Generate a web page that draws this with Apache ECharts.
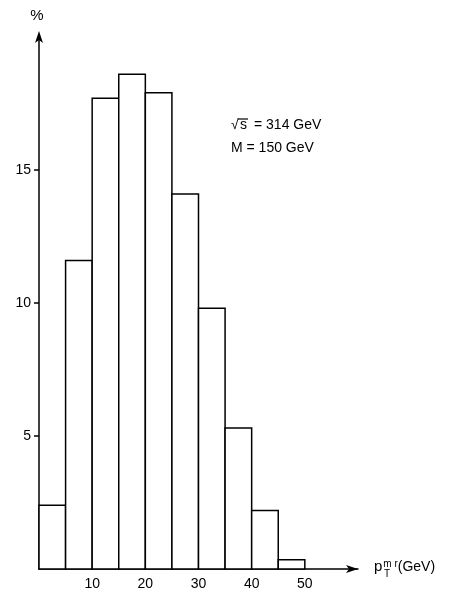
<!DOCTYPE html>
<html>
<head>
<meta charset="utf-8">
<script src="https://cdn.jsdelivr.net/npm/echarts@6/dist/echarts.min.js"></script>
<style>
  html, body { margin: 0; padding: 0; background: #fff; }
  #chart { width: 451px; height: 594px; }
</style>
</head>
<body>
<div id="chart"></div>
<script>
  // bins of pT (GeV), 5 GeV wide
  var binLow = [0, 5, 10, 15, 20, 25, 30, 35, 40, 45];
  var binHigh = [5, 10, 15, 20, 25, 30, 35, 40, 45, 50];
  var percent = [2.4, 11.6, 17.7, 18.6, 17.9, 14.1, 9.8, 5.3, 2.2, 0.35];
  var xTicks = [10, 20, 30, 40, 50];
  var yTicks = [5, 10, 15];

  var chart = echarts.init(document.getElementById('chart'));

  var bars = [];
  for (var i = 0; i < percent.length; i++) {
    bars.push([binLow[i], binHigh[i], percent[i]]);
  }

  var font = 'Liberation Sans';
  var txtFont = '14px "Liberation Sans"';

  var option = {
    backgroundColor: '#fff',
    animation: false,
    grid: { left: 39, right: 93, top: 37, bottom: 25 },
    xAxis: {
      type: 'value',
      min: 0,
      max: 60,
      axisLine: {
        show: true,
        lineStyle: { color: '#000', width: 1.5 },
        symbol: ['none', 'arrow'],
        symbolSize: [6, 12],
        symbolOffset: [0, 0]
      },
      axisTick: { show: true, customValues: xTicks, length: 0, lineStyle: { color: '#000' } },
      axisLabel: {
        customValues: xTicks,
        color: '#000',
        fontFamily: font,
        fontSize: 14,
        margin: 8
      },
      splitLine: { show: false },
      name: '{p|p}{sup|m r}{par|(GeV)}\n{sub|T}',
      nameLocation: 'end',
      nameGap: 16,
      nameTextStyle: {
        color: '#000',
        fontFamily: font,
        align: 'left',
        verticalAlign: 'top',
        padding: [-10, 0, 0, 0],
        rich: {
          p: { fontSize: 15, fontFamily: font, color: '#000' },
          sup: { fontSize: 10, fontFamily: font, color: '#000', verticalAlign: 'top', padding: [0, 0, 6, 1] },
          par: { fontSize: 14, fontFamily: font, color: '#000' },
          sub: { fontSize: 10, fontFamily: font, color: '#000', padding: [-6, 0, 0, 10] }
        }
      }
    },
    yAxis: {
      type: 'value',
      min: 0,
      max: 20,
      axisLine: {
        show: true,
        lineStyle: { color: '#000', width: 1.5 },
        symbol: ['none', 'arrow'],
        symbolSize: [6, 12],
        symbolOffset: [0, 6]
      },
      axisTick: { show: true, customValues: yTicks, length: 5, lineStyle: { color: '#000', width: 1.5 } },
      axisLabel: {
        customValues: yTicks,
        color: '#000',
        fontFamily: font,
        fontSize: 14,
        margin: 8
      },
      splitLine: { show: false },
      name: '%',
      nameLocation: 'end',
      nameGap: 14,
      nameTextStyle: { color: '#000', fontFamily: font, fontSize: 15, padding: [0, 0, 0, -4] }
    },
    series: [{
      type: 'custom',
      data: bars,
      encode: { x: [0, 1], y: 2 },
      renderItem: function (params, api) {
        var p0 = api.coord([api.value(0), api.value(2)]);
        var p1 = api.coord([api.value(1), 0]);
        return {
          type: 'rect',
          shape: { x: p0[0], y: p0[1], width: p1[0] - p0[0], height: p1[1] - p0[1] },
          style: { fill: '#fff', stroke: '#000', lineWidth: 1.5 }
        };
      }
    }],
    graphic: [
      { type: 'text', left: 231, top: 118, style: { text: '√', font: txtFont, fill: '#000' } },
      { type: 'text', left: 240, top: 118, style: { text: 's', font: txtFont, fill: '#000' } },
      {
        type: 'line',
        shape: { x1: 238, y1: 119, x2: 248, y2: 119 },
        style: { stroke: '#000', lineWidth: 1.2 }
      },
      { type: 'text', left: 254, top: 118, style: { text: '= 314 GeV', font: txtFont, fill: '#000' } },
      { type: 'text', left: 231, top: 141, style: { text: 'M = 150 GeV', font: txtFont, fill: '#000' } }
    ]
  };

  chart.setOption(option);
</script>
</body>
</html>
